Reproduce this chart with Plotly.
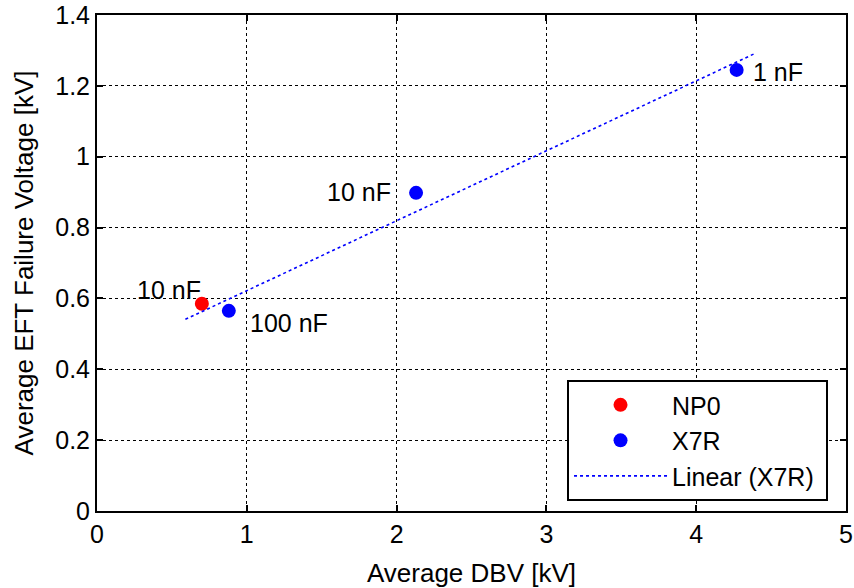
import plotly.graph_objects as go

# Data
np0_x = [0.70]
np0_y = [0.585]
np0_labels = ["10 nF"]

x7r_x = [0.88, 2.13, 4.27]
x7r_y = [0.565, 0.898, 1.245]
x7r_labels = ["100 nF", "10 nF", "1 nF"]

fit_x = [0.59, 4.40]
fit_y = [0.541, 1.293]

x_ticks = [0, 1, 2, 3, 4, 5]
y_ticks = [0, 0.2, 0.4, 0.6, 0.8, 1.0, 1.2, 1.4]
y_tick_text = ["0", "0.2", "0.4", "0.6", "0.8", "1", "1.2", "1.4"]

FONT = "Liberation Sans, Arial, sans-serif"

fig = go.Figure()
fig.add_trace(go.Scatter(x=np0_x, y=np0_y, mode="markers", name="NP0",
                         marker=dict(color="#ff0000", size=14)))
fig.add_trace(go.Scatter(x=x7r_x, y=x7r_y, mode="markers", name="X7R",
                         marker=dict(color="#0000ff", size=14)))
fig.add_trace(go.Scatter(x=fit_x, y=fit_y, mode="lines", name="Linear (X7R)\u00a0",
                         line=dict(color="#0000ff", width=1.6, dash="dot")))

# point labels, anchored to the data points
label_specs = [
    (np0_x[0], np0_y[0], np0_labels[0], "right", 1, 14),
    (x7r_x[0], x7r_y[0], x7r_labels[0], "left", 19, -12),
    (x7r_x[1], x7r_y[1], x7r_labels[1], "right", -23, 1),
    (x7r_x[2], x7r_y[2], x7r_labels[2], "left", 14, -2),
]
for x, y, t, anc, xs, ys in label_specs:
    fig.add_annotation(x=x, y=y, text=t, showarrow=False, xanchor=anc,
                       yanchor="middle", xshift=xs, yshift=ys,
                       font=dict(family=FONT, size=25, color="black"))

axis_common = dict(
    showline=True, linecolor="black", linewidth=2, mirror="allticks",
    ticks="inside", ticklen=6, tickcolor="black", tickwidth=1.5,
    showgrid=True, gridcolor="black", gridwidth=1, griddash="dot",
    zeroline=False, automargin=False,
    tickfont=dict(family=FONT, size=25, color="black"),
)

fig.update_xaxes(range=[0, 5], tickvals=x_ticks, ticktext=[str(v) for v in x_ticks],
                 title=dict(text="Average DBV [kV]", standoff=17,
                            font=dict(family=FONT, size=26, color="black")),
                 **axis_common)
fig.update_yaxes(range=[0, 1.4], tickvals=y_ticks, ticktext=y_tick_text,
                 title=dict(text="Average EFT Failure Voltage [kV]", standoff=14,
                            font=dict(family=FONT, size=26, color="black")),
                 **axis_common)

fig.update_layout(
    width=854, height=588,
    margin=dict(l=97, r=8, t=15, b=77),
    paper_bgcolor="white", plot_bgcolor="white",
    font=dict(family=FONT, color="black"),
    showlegend=True,
    legend=dict(x=0.976, y=0.02, xanchor="right", yanchor="bottom",
                bgcolor="white", bordercolor="black", borderwidth=2,
                font=dict(family=FONT, size=25, color="black"),
                itemwidth=93),
)

fig.write_html("out.html", config={"displayModeBar": False},
               post_script="document.body.style.margin='0';document.body.style.overflow='hidden';")
